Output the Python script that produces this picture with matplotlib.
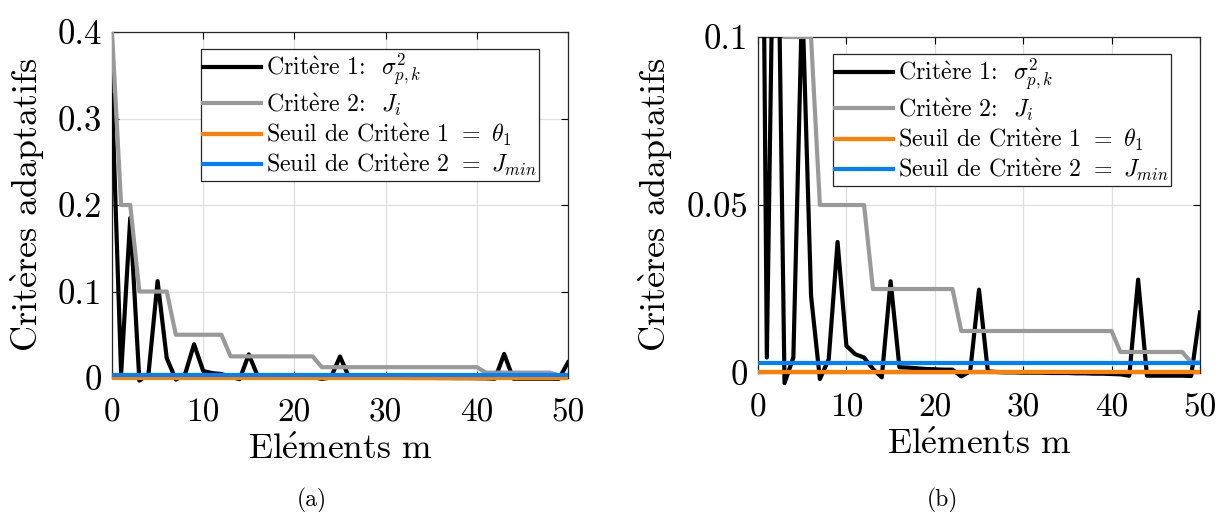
import numpy as np
import matplotlib
matplotlib.use("Agg")
import matplotlib.pyplot as plt
from matplotlib.patches import Rectangle

plt.rcParams['font.family'] = ['cmr10', 'DejaVu Serif']
plt.rcParams['mathtext.fontset'] = 'cm'
plt.rcParams['axes.formatter.use_mathtext'] = True

# ---- data ----
elements = list(range(51))
critere1 = [0.327, 0.0046, 0.185, -0.003, 0.0046, 0.112, 0.023, -0.0018, 0.0041, 0.039,
            0.0081, 0.0056, 0.0046, 0.0012, -0.0013, 0.0273, 0.0017, 0.0016, 0.0014, 0.0012,
            0.0011, 0.0010, 0.0010, -0.0010, 0.0005, 0.0248, 0.0005, 0.0003, 0.0002, 0.0002,
            0.0001, 0.0001, 0.0001, 0.0000, 0.0000, 0.0000, -0.0001, -0.0001, -0.0002, -0.0002,
            -0.0003, -0.0004, -0.0008, 0.0278, -0.0008, -0.0008, -0.0008, -0.0008, -0.0008, -0.0009,
            0.018]
critere2 = [0.4, 0.2, 0.2] + [0.1] * 4 + [0.05] * 6 + [0.025] * 10 + [0.0125] * 18 + [0.00625] * 8 + [0.003125] * 2
theta1 = 0.0002
jmin = 0.003

egrave = r'$\mathrm{\grave{e}}$'
labels = ['Crit' + egrave + r're 1:  $\sigma^2_{p,k}$',
          'Crit' + egrave + r're 2:  $J_i$',
          'Seuil de Crit' + egrave + r're 1 $=$ $\theta_1$',
          'Seuil de Crit' + egrave + r're 2 $=$ $J_{min}$']
xlabel = r'El$\mathrm{\acute{e}}$ments m'
ylabel = 'Crit' + egrave + 'res adaptatifs'
ylims = [(0, 0.4), (0, 0.1)]
yticks = [[0, 0.1, 0.2, 0.3, 0.4], [0, 0.05, 0.1]]
yticklabels = [['0', '0.1', '0.2', '0.3', '0.4'], ['0', '0.05', '0.1']]
xticks = [0, 10, 20, 30, 40, 50]
captions = ['(a)', '(b)']

W, H = 1219, 512
fig = plt.figure(figsize=(W / 100, H / 100), dpi=100)

axes_px = [(112, 32, 568, 378), (758, 37, 1200, 373)]
legend_px = [(201, 49), (833, 54)]
caption_px = [(312, 500), (942, 500)]

for i in range(2):
    x0, y0, x1, y1 = axes_px[i]
    ax = fig.add_axes([x0 / W, 1 - y1 / H, (x1 - x0) / W, (y1 - y0) / H])
    lines = []
    lines += ax.plot(elements, critere1, color='black', lw=3.0, zorder=3)
    lines += ax.plot(elements, critere2, color='#999999', lw=3.0, zorder=3)
    lines += ax.plot([elements[0], elements[-1]], [theta1, theta1], color='#FF8000', lw=3.0, zorder=3)
    lines += ax.plot([elements[0], elements[-1]], [jmin, jmin], color='#0080FF', lw=3.0, zorder=3)
    clip = Rectangle((0, -0.15), 1, 1.15, transform=ax.transAxes, facecolor='none', edgecolor='none')
    ax.add_patch(clip)
    clip.set_visible(False)
    for ln in lines:
        ln.set_clip_path(clip)
    ax.set_xlim(0, 50)
    ax.set_ylim(*ylims[i])
    ax.set_xticks(xticks)
    ax.set_xticklabels([str(t) for t in xticks])
    ax.set_yticks(yticks[i])
    ax.set_yticklabels(yticklabels[i])
    ax.tick_params(direction='in', top=True, right=True, length=5, width=0.8)
    ax.tick_params(axis='x', labelsize=24, pad=14.5)
    ax.tick_params(axis='y', labelsize=25, pad=7)
    ax.grid(True, color='#dedede', lw=0.9)
    ax.set_axisbelow(True)
    for s in ax.spines.values():
        s.set_linewidth(0.9)
        s.set_color('#262626')
    ax.set_xlabel(xlabel, fontsize=25.5, labelpad=5)
    ax.set_ylabel(ylabel, fontsize=26, labelpad=8)
    lx, ly = legend_px[i]
    leg = ax.legend(lines, labels, loc='upper left',
                    bbox_to_anchor=(lx / W, 1 - ly / H), bbox_transform=fig.transFigure,
                    fontsize=17.2, frameon=True, fancybox=False, framealpha=1,
                    edgecolor='#262626', handlelength=2.4, handletextpad=0.2,
                    labelspacing=0.15, borderpad=0.1, borderaxespad=0)
    leg.get_frame().set_linewidth(0.9)
    cx, cy = caption_px[i]
    fig.text(cx / W, 1 - cy / H, captions[i], ha='center', va='center', fontsize=17)

fig.savefig('out.png', dpi=100)
